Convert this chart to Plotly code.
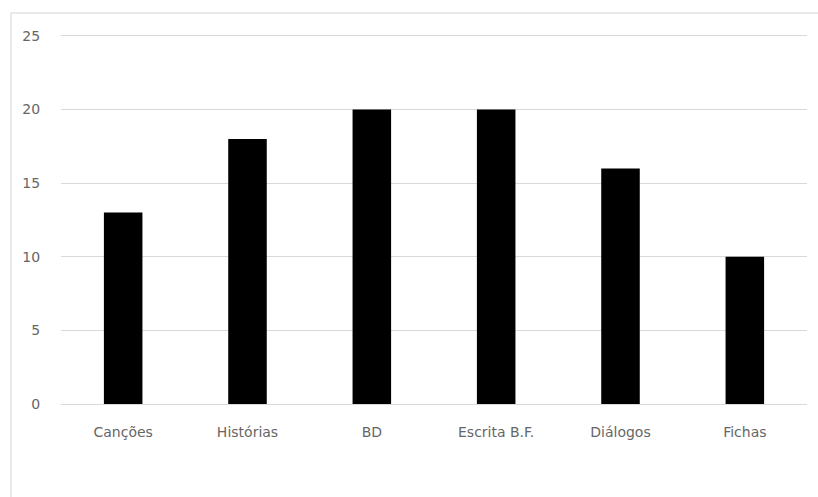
import plotly.graph_objects as go

categories = ["Canções", "Histórias", "BD", "Escrita B.F.", "Diálogos", "Fichas"]
values = [13, 18, 20, 20, 16, 10]
y_ticks = [0, 5, 10, 15, 20, 25]

W, H = 818, 497
ml, mr, mt, mb = 61, 11, 33, 93
pw, ph = W - ml - mr, H - mt - mb

fig = go.Figure(
    go.Bar(
        x=categories,
        y=values,
        marker=dict(color="#000000", line=dict(width=0)),
        width=0.31,
        hoverinfo="x+y",
    )
)

grid = "#d9d9d9"
font = dict(family="DejaVu Sans, sans-serif", size=14, color="#666666")

# outer chart-area frame (right and bottom edges run off the canvas)
frame = dict(
    type="rect",
    xref="paper",
    yref="paper",
    x0=(11 - ml) / pw,
    x1=(W + 20 - ml) / pw,
    y0=-(mb + 20) / ph,
    y1=1 + (mt - 13) / ph,
    line=dict(color="#e3e3e3", width=1.5),
    fillcolor="rgba(0,0,0,0)",
    layer="below",
)

fig.update_layout(
    width=W,
    height=H,
    margin=dict(l=ml, r=mr, t=mt, b=mb),
    paper_bgcolor="white",
    plot_bgcolor="white",
    showlegend=False,
    font=font,
    xaxis=dict(
        showgrid=False,
        showline=False,
        zeroline=False,
        ticks="outside",
        ticklen=15,
        tickcolor="rgba(0,0,0,0)",
        tickfont=font,
    ),
    yaxis=dict(
        range=[0, 25.2],
        tickvals=y_ticks,
        showgrid=True,
        gridcolor=grid,
        gridwidth=1.3,
        zeroline=True,
        zerolinecolor=grid,
        zerolinewidth=1.3,
        showline=False,
        ticks="outside",
        ticklen=17,
        tickcolor="rgba(0,0,0,0)",
        tickfont=font,
    ),
    shapes=[frame],
)

fig.write_html("out.html")
